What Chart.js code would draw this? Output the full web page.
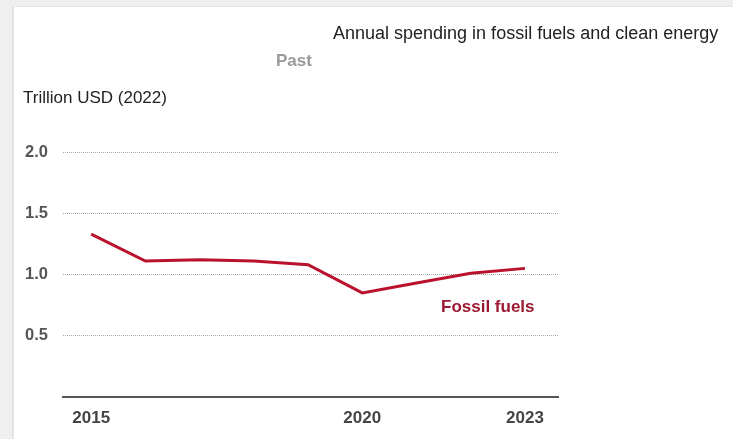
<!DOCTYPE html>
<html>
<head>
<meta charset="utf-8">
<script src="https://cdn.jsdelivr.net/npm/chart.js@4/dist/chart.umd.min.js"></script>
<style>
  html, body { margin: 0; padding: 0; }
  body { width: 733px; height: 439px; background: #efefef; position: relative; overflow: hidden;
         font-family: "Liberation Sans", Arial, sans-serif; }
  .panel { position: absolute; left: 12px; top: 6px; width: 740px; height: 450px; background: #fff;
           border-left: 2px solid #e4e4e4; border-top: 1px solid #e4e4e4; }
  canvas { position: absolute; left: 0; top: 0; }
  .txt { position: absolute; white-space: nowrap; line-height: 1.2; }
  #titulo { left: 333px; top: 23px; font-size: 18px; color: #222; }
  #past { left: 276px; top: 51px; font-size: 17px; font-weight: bold; color: #9a9a9a; }
  #unidade { left: 23px; top: 88px; font-size: 17px; color: #222; }
  #rotulo { left: 441px; top: 297px; font-size: 17px; font-weight: bold; color: #9b1a31; }
</style>
</head>
<body>
<div class="panel"></div>
<canvas id="grafico" width="733" height="439"></canvas>
<div class="txt" id="titulo">Annual spending in fossil fuels and clean energy</div>
<div class="txt" id="past">Past</div>
<div class="txt" id="unidade">Trillion USD (2022)</div>
<div class="txt" id="rotulo">Fossil fuels</div>

<script>
// ===== DADOS =====
const ANOS = [2015, 2016, 2017, 2018, 2019, 2020, 2021, 2022, 2023];
const FOSSIL = [1.33, 1.11, 1.12, 1.11, 1.08, 0.85, 0.93, 1.01, 1.05];
const TICKS_X = [2015, 2020, 2023];
const TICKS_Y = [0, 0.5, 1.0, 1.5, 2.0];

const ctx = document.getElementById('grafico').getContext('2d');

new Chart(ctx, {
  type: 'line',
  data: {
    datasets: [{
      label: 'Fossil fuels',
      data: ANOS.map((a, i) => ({ x: a, y: FOSSIL[i] })),
      borderColor: '#ba122c',
      borderWidth: 3,
      pointRadius: 0,
      tension: 0,
      fill: false,
    }]
  },
  options: {
    responsive: false,
    animation: false,
    layout: { padding: { top: 152, right: 175, left: 0, bottom: 0 } },
    plugins: { legend: { display: false }, tooltip: { enabled: false } },
    scales: {
      x: {
        type: 'linear',
        min: 2014.48,
        max: 2023.61,
        afterBuildTicks: s => { s.ticks = TICKS_X.map(v => ({ value: v })); },
        afterFit: s => { s.height = 42; },
        ticks: {
          color: '#444',
          font: { family: '"Liberation Sans", Arial', size: 17, weight: 'bold' },
          padding: 11,
          maxRotation: 0,
          callback: v => String(v),
        },
        grid: { display: false, drawTicks: false },
        border: { display: true, color: '#555', width: 2 },
      },
      y: {
        min: 0,
        max: 2.0,
        afterBuildTicks: s => { s.ticks = TICKS_Y.map(v => ({ value: v })); },
        afterFit: s => { s.width = 63; },
        ticks: {
          color: '#555',
          font: { family: '"Liberation Sans", Arial', size: 16.5, weight: 'bold' },
          padding: 15,
          callback: v => v === 0 ? '' : v.toFixed(1),
        },
        grid: {
          drawTicks: false,
          color: ctx => ctx.tick && ctx.tick.value === 0 ? 'rgba(0,0,0,0)' : '#a8a8a8',
          lineWidth: 1,
        },
        border: { display: false, dash: [1, 1] },
      }
    }
  }
});
</script>
</body>
</html>
